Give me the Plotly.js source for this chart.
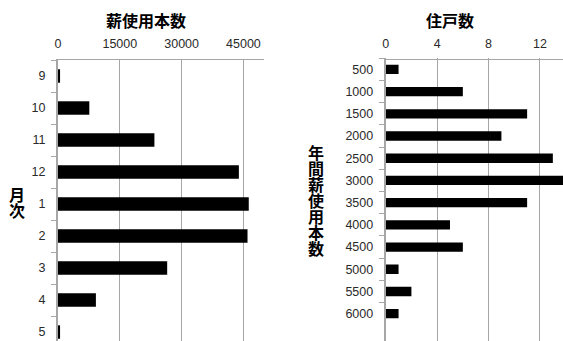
<!DOCTYPE html>
<html><head><meta charset="utf-8">
<script src="https://cdn.plot.ly/plotly-3.0.1.min.js"></script>
<style>body{margin:0;padding:0;background:#fff}#c{width:563px;height:341px}</style>
</head><body><div id="c"></div>
<script>
const months = ["9","10","11","12","1","2","3","4","5"];
const firewoodUse = [500, 7600, 23400, 43900, 46300, 46000, 26500, 9200, 500];
const useClasses = ["500","1000","1500","2000","2500","3000","3500","4000","4500","5000","5500","6000"];
const households = [1, 6, 11, 9, 13, 14, 11, 5, 6, 1, 2, 1];
const leftTicks = [0, 15000, 30000, 45000];
const rightTicks = [0, 4, 8, 12];
const leftYTitle = "月次";
const rightYTitle = "年間薪使用本数";

const W = 563, H = 341;
const grey = "#a6a6a6";
const tickFont = {family: "Liberation Sans, Arial, sans-serif", size: 12.5, color: "#2a2a2a"};
const titleFont = {family: "Noto Sans CJK JP, sans-serif", size: 16, color: "#000", weight: "bold"};

const traces = [
  {type: "bar", orientation: "h", x: firewoodUse, y: months, xaxis: "x", yaxis: "y",
   marker: {color: "#000", line: {width: 0}}, hoverinfo: "x+y"},
  {type: "bar", orientation: "h", x: households, y: useClasses, xaxis: "x2", yaxis: "y2",
   marker: {color: "#000", line: {width: 0}}, hoverinfo: "x+y"}
];

function xa(dom, range, ticks) {
  return {domain: dom, range: range, side: "top", tickvals: ticks, ticktext: ticks.map(String),
    showgrid: true, gridcolor: grey, gridwidth: 1, zeroline: false, showline: true,
    linecolor: grey, linewidth: 1, ticks: "", tickfont: tickFont, ticklabelstandoff: 6, fixedrange: true};
}
function ya(dom, range, anchor, cats) {
  return {domain: dom, range: range, type: "category", categoryorder: "array", categoryarray: cats,
    anchor: anchor, showline: true, linecolor: grey, linewidth: 2, showgrid: false, zeroline: false,
    ticks: "outside", tickson: "boundaries", ticklen: 5, tickcolor: grey, tickwidth: 1,
    tickfont: tickFont, ticklabelstandoff: 8, fixedrange: true};
}
function ann(text, cx, cy) {
  return {text: text, x: cx / W, y: 1 - cy / H, xref: "paper", yref: "paper",
    showarrow: false, font: titleFont, xanchor: "center", yanchor: "middle"};
}

const verticalTitles = [[leftYTitle, 17, 203], [rightYTitle, 316, 201]];

const layout = {
  width: W, height: H, margin: {l: 0, r: 0, t: 0, b: 0},
  paper_bgcolor: "#fff", plot_bgcolor: "#fff", showlegend: false,
  bargap: 0.58,
  xaxis: xa([58 / W, 264 / W], [0, 50000], leftTicks),
  yaxis: ya([0, 1 - 60 / H], [8.28, -0.5], "x", months),
  xaxis2: xa([385.7 / W, 1], [0, 13.79], rightTicks),
  yaxis2: ya([0, 1 - 58.3 / H], [12.23, -0.5], "x2", useClasses),
  annotations: [ann("薪使用本数", 146, 20), ann("住戸数", 450, 20)]
    .concat(verticalTitles.map(v => ann(v[0], v[1], v[2])))
};

Plotly.newPlot("c", traces, layout, {staticPlot: true, displayModeBar: false}).then(gd => {
  const root = gd.getBoundingClientRect();
  gd.querySelectorAll("text.annotation-text").forEach(el => {
    const v = verticalTitles.find(t => t[0] === el.textContent);
    if (!v) return;
    el.style.writingMode = "vertical-rl";
    el.setAttribute("text-anchor", "middle");
    el.querySelectorAll("tspan").forEach(t => { t.style.writingMode = "vertical-rl"; });
    const r = el.getBoundingClientRect();
    const dx = v[1] - (r.left - root.left + r.width / 2);
    const dy = v[2] - (r.top - root.top + r.height / 2);
    const x = parseFloat(el.getAttribute("x") || 0), y = parseFloat(el.getAttribute("y") || 0);
    el.setAttribute("x", x + dx);
    el.setAttribute("y", y + dy);
  });
});
</script></body></html>
